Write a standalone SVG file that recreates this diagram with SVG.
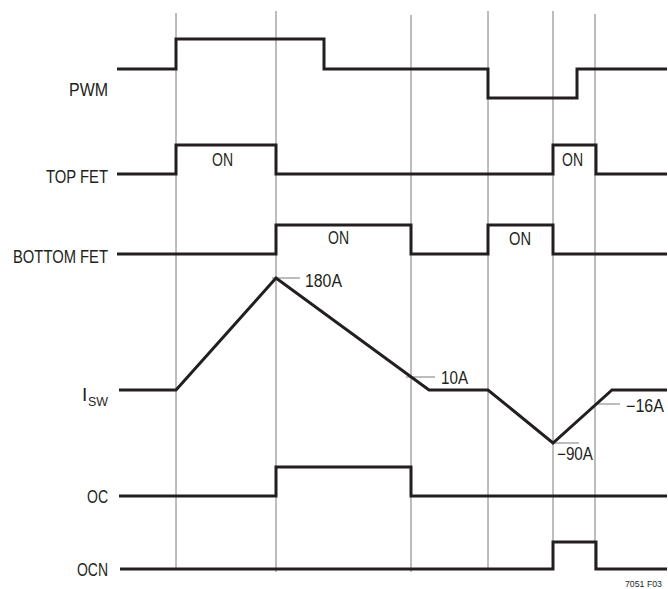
<svg xmlns="http://www.w3.org/2000/svg" width="668" height="589" viewBox="0 0 668 589">
<style>
.grid{stroke:#7a7a7a;stroke-width:1;fill:none}
.sig{stroke:#231f20;stroke-width:3;fill:none;stroke-linejoin:miter;stroke-linecap:butt}
.tick{stroke:#7a7a7a;stroke-width:1;fill:none}
text{font-family:"Liberation Sans",Arial,sans-serif;font-size:19px;fill:#231f20}
.val{font-size:17.5px}
.sub{font-size:12.5px}
.small{font-size:9.5px}
</style>
<rect width="668" height="589" fill="#ffffff"/>
<g id="gridlines">
<line class="grid" x1="176" y1="13" x2="176" y2="570"/>
<line class="grid" x1="276" y1="11" x2="276" y2="572"/>
<line class="grid" x1="411" y1="15" x2="411" y2="572"/>
<line class="grid" x1="488" y1="11" x2="488" y2="570"/>
<line class="grid" x1="553" y1="11" x2="553" y2="570"/>
<line class="grid" x1="595" y1="14" x2="595" y2="570"/>
</g>
<g id="connectors">
<path class="tick" d="M272,278 H300"/>
<path class="tick" d="M406,377 H435"/>
<path class="tick" d="M553,443 H579"/>
<path class="tick" d="M595,404 H620"/>
</g>
<g id="pwm">
<path class="sig" d="M117,69 H176 V39 H324 V69 H488 V98 H577 V69 H667"/>
<text x="69" y="96" textLength="39" lengthAdjust="spacingAndGlyphs">PWM</text>
</g>
<g id="topfet">
<path class="sig" d="M117,174 H176 V145 H276 V174 H553 V145 H596 V174 H667"/>
<text x="46" y="183" textLength="62" lengthAdjust="spacingAndGlyphs">TOP FET</text>
<text class="val" x="212" y="166" textLength="21" lengthAdjust="spacingAndGlyphs">ON</text>
<text class="val" x="562" y="166" textLength="21" lengthAdjust="spacingAndGlyphs">ON</text>
</g>
<g id="bottomfet">
<path class="sig" d="M117,254 H276 V225 H411 V254 H488 V225 H553 V254 H667"/>
<text x="13" y="263" textLength="95" lengthAdjust="spacingAndGlyphs">BOTTOM FET</text>
<text class="val" x="328" y="244" textLength="21" lengthAdjust="spacingAndGlyphs">ON</text>
<text class="val" x="509" y="245" textLength="22" lengthAdjust="spacingAndGlyphs">ON</text>
</g>
<g id="isw">
<path class="sig" d="M119,390 H176 L276,278 L429,390 H488 L553,443 L612,390 H667"/>
<text x="82" y="401">I</text>
<text class="sub" x="88" y="406" textLength="20" lengthAdjust="spacingAndGlyphs">SW</text>
<text class="val" x="305" y="287" textLength="37" lengthAdjust="spacingAndGlyphs">180A</text>
<text class="val" x="441" y="384" textLength="27" lengthAdjust="spacingAndGlyphs">10A</text>
<text class="val" x="557" y="460" textLength="36" lengthAdjust="spacingAndGlyphs">−90A</text>
<text class="val" x="626" y="412" textLength="38" lengthAdjust="spacingAndGlyphs">−16A</text>
</g>
<g id="oc">
<path class="sig" d="M119,496 H276 V467 H411 V496 H667"/>
<text x="87" y="503" textLength="21" lengthAdjust="spacingAndGlyphs">OC</text>
</g>
<g id="ocn">
<path class="sig" d="M120,569 H553 V542 H596 V569 H667"/>
<text x="77" y="576" textLength="31" lengthAdjust="spacingAndGlyphs">OCN</text>
</g>
<text class="small" x="625" y="587" textLength="37" lengthAdjust="spacingAndGlyphs">7051 F03</text>
</svg>
